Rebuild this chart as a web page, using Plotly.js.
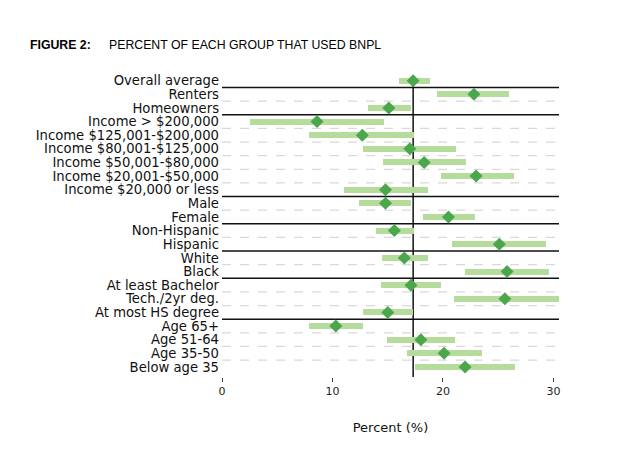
<!DOCTYPE html>
<html>
<head>
<meta charset="utf-8">
<script src="https://cdn.plot.ly/plotly-3.0.1.min.js"></script>
<style>html,body{margin:0;padding:0;background:#fff;}#chart{width:640px;height:452px;}</style>
</head>
<body>
<div id="chart"></div>
<script>
const groups = ["Overall average","Renters","Homeowners","Income > $200,000","Income $125,001-$200,000","Income $80,001-$125,000","Income $50,001-$80,000","Income $20,001-$50,000","Income $20,000 or less","Male","Female","Non-Hispanic","Hispanic","White","Black","At least Bachelor","Tech./2yr deg.","At most HS degree","Age 65+","Age 51-64","Age 35-50","Below age 35"];
const estimates = [17.3,22.8,15.1,8.6,12.7,17.0,18.3,23.0,14.8,14.8,20.5,15.6,25.1,16.5,25.8,17.1,25.6,15.0,10.3,18.0,20.1,22.0];
const lower = [16.0,19.5,13.2,2.5,7.9,12.8,14.6,19.8,11.0,12.4,18.2,13.9,20.8,14.5,22.0,14.4,21.0,12.8,7.9,14.9,16.7,17.5];
const upper = [18.8,26.0,17.1,14.7,17.4,21.2,22.1,26.4,18.6,17.1,22.9,17.4,29.3,18.6,29.6,19.8,30.5,17.3,12.8,21.1,23.5,26.5];
const solidAfter = [0,2,8,10,12,14,17];
const xTicks = [0,10,20,30];

const idx = groups.map((g,i)=>i);
const traces = [
  {type:'bar', orientation:'h', y:idx, base:lower, x:upper.map((u,i)=>u-lower[i]),
   width:0.44, marker:{color:'#b5dc9b', line:{width:0}}, hoverinfo:'skip', showlegend:false},
  {type:'scatter', mode:'markers', y:idx, x:estimates,
   marker:{symbol:'diamond', size:10, color:'#4ca64c', line:{width:0}}, showlegend:false, cliponaxis:false}
];
const shapes = [];
for (let i=0;i<groups.length-1;i++){
  const solid = solidAfter.includes(i);
  shapes.push({type:'line', xref:'paper', x0:0, x1:1, yref:'y', y0:i+0.5, y1:i+0.5, layer:'below',
    line: solid ? {color:'#111', width:1.5} : {color:'#d9d9d9', width:1.2, dash:'dash'}});
}
shapes.push({type:'line', xref:'x', x0:estimates[0], x1:estimates[0], yref:'y', y0:0, y1:21.74,
  line:{color:'#111', width:1.5}, layer:'below'});

const layout = {
  width:640, height:452,
  margin:{l:222, r:81, t:70, b:75},
  paper_bgcolor:'#fff', plot_bgcolor:'#fff',
  font:{family:'DejaVu Sans', color:'#111'},
  bargap:0,
  xaxis:{range:[0,30.5], tickvals:xTicks, ticktext:xTicks.map(String), ticks:'outside', ticklen:4,
    tickcolor:'#444', tickwidth:1, showgrid:false, zeroline:false, showline:false,
    tickfont:{family:'DejaVu Sans', size:11, color:'#222'},
    title:{text:'Percent (%)', font:{family:'DejaVu Sans', size:13, color:'#111'}, standoff:25}},
  yaxis:{range:[21.74,-0.785], tickvals:idx, ticktext:groups, showgrid:false, zeroline:false, showline:false,
    ticks:'', tickfont:{family:'DejaVu Sans', size:13.2, color:'#111'}, ticklabelstandoff:2},
  shapes:shapes,
  annotations:[
    {xref:'paper', yref:'paper', x:(28-222)/337, y:(377-45)/307, xanchor:'left', yanchor:'middle',
     text:'<b>FIGURE 2:</b>', showarrow:false, font:{family:'Liberation Sans', size:12.3, color:'#000'}},
    {xref:'paper', yref:'paper', x:(107-222)/337, y:(377-45)/307, xanchor:'left', yanchor:'middle',
     text:'PERCENT OF EACH GROUP THAT USED BNPL', showarrow:false, font:{family:'Liberation Sans', size:12.3, color:'#000'}}
  ]
};
Plotly.newPlot('chart', traces, layout, {displayModeBar:false, staticPlot:true});
</script>
</body>
</html>
